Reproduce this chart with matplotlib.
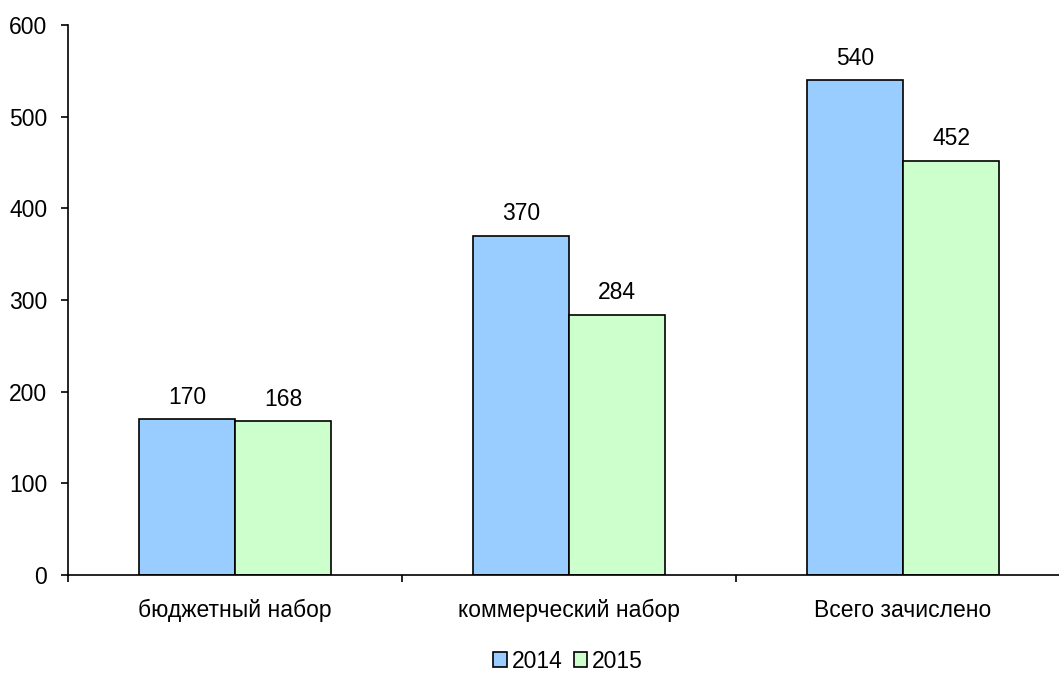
import matplotlib
matplotlib.use("Agg")
import matplotlib.pyplot as plt
import numpy as np

categories = ["бюджетный набор", "коммерческий набор", "Всего зачислено"]
series_names = ["2014", "2015"]
values_2014 = [170, 370, 540]
values_2015 = [168, 284, 452]

plt.rcParams['font.family'] = ['Liberation Sans', 'DejaVu Sans']
FS = 16.5

fig = plt.figure(figsize=(10.59, 6.77), dpi=100)
ax = fig.add_axes([68 / 1059, 1 - 575 / 677, 1002 / 1059, 550 / 677])

x = np.arange(len(categories)) + 0.5
w = 0.288
colors = ["#99CCFF", "#CCFFCC"]

b1 = ax.bar(x - w / 2, values_2014, w, color=colors[0], edgecolor="black", linewidth=1.2, label=series_names[0])
b2 = ax.bar(x + w / 2, values_2015, w, color=colors[1], edgecolor="black", linewidth=1.2, label=series_names[1])

for bars in (b1, b2):
    for r in bars:
        h = r.get_height()
        ax.annotate(str(int(h)), (r.get_x() + r.get_width() / 2, h),
                    xytext=(0, 7.5), textcoords="offset points",
                    ha="center", va="bottom", fontsize=FS)

ax.set_xlim(0, 3)
ax.set_ylim(0, 600)
ax.set_yticks(range(0, 601, 100))
ax.set_xticks(x)
ax.set_xticklabels(categories)
ax.set_xticks([0, 1, 2, 3], minor=True)
ax.tick_params(axis="x", which="major", length=0, pad=17.5, labelsize=FS)
ax.tick_params(axis="x", which="minor", length=5, width=1.2, direction="out")
ax.tick_params(axis="y", length=5, width=1.2, direction="out", pad=10, labelsize=FS)

for s in ("top", "right"):
    ax.spines[s].set_visible(False)
for s in ("left", "bottom"):
    ax.spines[s].set_linewidth(1.2)

ax.legend(loc="center", bbox_to_anchor=(568 / 1059, 1 - 661 / 677), bbox_transform=fig.transFigure,
          ncol=2, frameon=False, fontsize=FS, handlelength=0.6, handleheight=0.6,
          handletextpad=0.2, columnspacing=0.5)

fig.savefig("out.png", dpi=100)
